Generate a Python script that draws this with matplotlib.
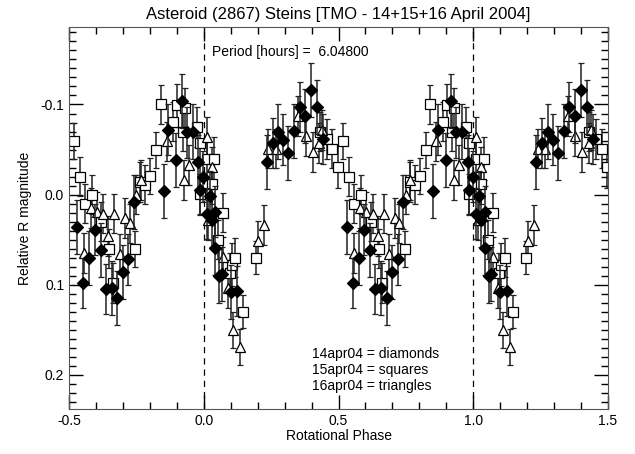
import numpy as np
import matplotlib.pyplot as plt
from matplotlib.ticker import MultipleLocator

# rotational phase (0..1) and relative R magnitude, per night
dia_phase = [0.011, 0.023, 0.030, 0.042, 0.042, 0.058, 0.066, 0.100, 0.124,
             0.234, 0.256, 0.277, 0.295, 0.314, 0.336, 0.357, 0.376, 0.398, 0.421, 0.444,
             0.530, 0.553, 0.575, 0.596, 0.617, 0.637, 0.658, 0.679, 0.699, 0.720, 0.741,
             0.852, 0.868, 0.897, 0.918, 0.937, 0.959, 0.980, 0.986, 0.998]
dia_mag = [0.021, 0.002, 0.028, 0.019, 0.059, 0.090, 0.088, 0.108, 0.107,
           -0.036, -0.057, -0.070, -0.061, -0.046, -0.071, -0.097, -0.087, -0.116, -0.097, -0.062,
           0.036, 0.098, 0.070, 0.039, 0.061, 0.105, 0.104, 0.115, 0.086, 0.072, 0.008,
           -0.004, -0.072, -0.038, -0.104, -0.069, -0.070, -0.036, -0.005, -0.020]
dia_err = [0.028, 0.028, 0.030, 0.028, 0.030, 0.030, 0.030, 0.030, 0.028,
           0.030, 0.028, 0.030, 0.028, 0.030, 0.030, 0.028, 0.030, 0.030, 0.030, 0.028,
           0.030, 0.028, 0.030, 0.028, 0.030, 0.028, 0.030, 0.030, 0.030, 0.028, 0.030,
           0.030, 0.028, 0.030, 0.030, 0.028, 0.030, 0.030, 0.028, 0.028]

sq_phase = [0.011, 0.029, 0.038, 0.054, 0.072, 0.097, 0.104, 0.116, 0.147, 0.194,
            0.431, 0.456, 0.477, 0.497, 0.518, 0.539, 0.559, 0.584, 0.620, 0.649, 0.662, 0.745,
            0.764, 0.782, 0.801, 0.823, 0.840, 0.887, 0.902, 0.922, 0.930, 0.974, 0.986, 0.986]
sq_mag = [-0.040, -0.012, -0.040, 0.050, 0.020, 0.087, 0.078, 0.070, 0.130, 0.070,
          -0.070, -0.062, -0.051, -0.031, -0.060, -0.020, 0.010, 0.000, 0.030, 0.060, 0.098, 0.060,
          -0.014, -0.011, -0.021, -0.050, -0.100, -0.081, -0.099, -0.070, -0.096, -0.075, -0.057, -0.001]
sq_err = [0.022, 0.022, 0.024, 0.022, 0.022, 0.022, 0.024, 0.022, 0.018, 0.018,
          0.022, 0.022, 0.022, 0.024, 0.020, 0.022, 0.022, 0.022, 0.022, 0.022, 0.022, 0.020,
          0.022, 0.022, 0.020, 0.020, 0.022, 0.022, 0.024, 0.022, 0.022, 0.022, 0.022, 0.022]

tri_phase = [0.011, 0.017, 0.029, 0.072, 0.091, 0.110, 0.135, 0.203, 0.224,
             0.240, 0.268, 0.351, 0.379, 0.404, 0.428, 0.437,
             0.556, 0.580, 0.603, 0.627, 0.645, 0.668, 0.689, 0.708, 0.726, 0.749, 0.766,
             0.862, 0.927, 0.946]
tri_mag = [-0.064, 0.028, -0.031, 0.069, 0.104, 0.150, 0.169, 0.051, 0.034,
           -0.051, -0.051, -0.087, -0.065, -0.047, -0.057, -0.072,
           0.065, 0.015, 0.019, 0.021, 0.046, 0.021, 0.066, 0.026, 0.032, 0.000, -0.016,
           -0.059, -0.016, -0.033]
tri_err = [0.022, 0.022, 0.022, 0.022, 0.022, 0.020, 0.020, 0.022, 0.022,
           0.022, 0.022, 0.022, 0.022, 0.022, 0.022, 0.022,
           0.022, 0.022, 0.022, 0.022, 0.022, 0.022, 0.022, 0.022, 0.022, 0.022, 0.022,
           0.022, 0.022, 0.022]

period_hours = 6.048
legend_lines = ["14apr04 = diamonds", "15apr04 = squares", "16apr04 = triangles"]

plt.rcParams['font.family'] = ['Liberation Sans', 'DejaVu Sans']

fig = plt.figure(figsize=(6.35, 4.54), dpi=100)
ax = fig.add_axes([0.1087, 0.0991, 0.8488, 0.8414])


def plot_night(phase, mag, err, marker, filled, ms):
    phase = np.asarray(phase)
    mag = np.asarray(mag)
    err = np.asarray(err)
    # repeat each cycle so the curve covers -0.5 .. 1.5
    for shift in (-1, 0, 1):
        p = phase + shift
        keep = (p >= -0.5) & (p <= 1.5)
        ax.errorbar(p[keep], mag[keep], yerr=err[keep], fmt=marker, ms=ms,
                    mfc="black" if filled else "white", mec="black", mew=0.9,
                    ecolor="#222222", elinewidth=1.1, capsize=2.5, capthick=1.0,
                    zorder=3 if filled else 2)


plot_night(sq_phase, sq_mag, sq_err, "s", False, 7)
plot_night(tri_phase, tri_mag, tri_err, "^", False, 7.5)
plot_night(dia_phase, dia_mag, dia_err, "D", True, 6.5)

ax.axvline(0.0, color="black", lw=0.9, ls=(0, (5, 4)), zorder=1)
ax.axvline(1.0, color="black", lw=0.9, ls=(0, (5, 4)), zorder=1)

ax.set_xlim(-0.5, 1.5)
ax.set_ylim(0.238, -0.186)
ax.xaxis.set_major_locator(MultipleLocator(0.5))
ax.xaxis.set_minor_locator(MultipleLocator(0.1))
ax.yaxis.set_major_locator(MultipleLocator(0.1))
ax.yaxis.set_minor_locator(MultipleLocator(0.01))
ax.xaxis.set_major_formatter(plt.FormatStrFormatter("%.1f"))
ax.yaxis.set_major_formatter(plt.FormatStrFormatter("%.1f"))
ax.tick_params(which="both", direction="in", top=True, right=True, labelsize=10)
ax.tick_params(which="major", length=10, width=1)
ax.tick_params(which="minor", length=5, width=1)
for s in ax.spines.values():
    s.set_color("#555555")

ax.set_title("Asteroid (2867) Steins [TMO - 14+15+16 April 2004]", fontsize=12, pad=6)
ax.set_xlabel("Rotational Phase", fontsize=10, labelpad=1)
ax.set_ylabel("Relative R magnitude", fontsize=10, labelpad=6)

ax.text(0.265, 0.935, "Period [hours] =  %.5f" % period_hours, transform=ax.transAxes,
        fontsize=10, ha="left", va="center")
for i, line in enumerate(legend_lines):
    ax.text(0.451, 0.144 - 0.042 * i, line, transform=ax.transAxes,
            fontsize=10, ha="left", va="center")

fig.savefig("out.png", dpi=100)
